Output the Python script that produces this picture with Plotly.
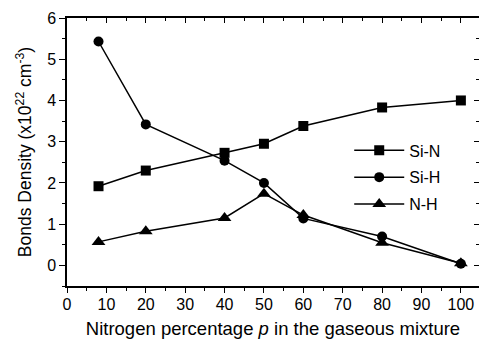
import plotly.graph_objects as go

p = [8, 20, 40, 50, 60, 80, 100]
si_n = [1.92, 2.30, 2.73, 2.95, 3.38, 3.83, 4.0]
si_h = [5.43, 3.42, 2.54, 2.0, 1.14, 0.70, 0.04]
n_h = [0.57, 0.83, 1.15, 1.74, 1.22, 0.55, 0.05]

series = [("Si-N", si_n, "square", 10), ("Si-H", si_h, "circle", 10), ("N-H", n_h, "triangle-up", 12)]

FONT = "Liberation Sans, Arial, Helvetica, sans-serif"
XR = [0, 104.6]
YR = [-0.5, 6]

fig = go.Figure()
for name, vals, sym, sz in series:
    fig.add_trace(go.Scatter(
        x=p, y=vals, name=name, mode="lines+markers", legendgroup=name,
        line=dict(color="black", width=1.5),
        marker=dict(symbol=sym, size=sz, color="black"),
    ))

axis_common = dict(showgrid=False, zeroline=False, linecolor="black", linewidth=1.5,
                   tickcolor="black", tickwidth=1.2)

fig.update_layout(
    width=479, height=341,
    margin=dict(l=67, r=0, t=18, b=55),
    paper_bgcolor="white", plot_bgcolor="white",
    font=dict(family=FONT, size=16, color="black"),
    showlegend=True,
    legend=dict(x=0.685, y=0.405, xanchor="left", yanchor="middle",
                bgcolor="rgba(0,0,0,0)", font=dict(size=16, family=FONT),
                tracegroupgap=3, itemwidth=50),
    xaxis=dict(range=XR, dtick=10, tick0=0, ticks="outside", ticklen=5, showline=True,
               ticklabelstandoff=-2,
               minor=dict(dtick=5, ticklen=3, ticks="outside", tickcolor="black"),
               title=dict(text="Nitrogen percentage <i>p</i> in the gaseous mixture",
                          font=dict(size=18.5), standoff=10),
               **axis_common),
    yaxis=dict(range=YR, dtick=1, tick0=0, ticks="outside", ticklen=6, showline=True,
               minor=dict(dtick=0.5, ticklen=3, ticks="outside", tickcolor="black"),
               title=dict(text="Bonds Density (x10<sup>22</sup> cm<sup>-3</sup>)",
                          font=dict(size=17.5), standoff=11),
               **axis_common),
    xaxis2=dict(range=XR, overlaying="x", side="top", anchor="y", dtick=10, tick0=0,
                ticks="inside", ticklen=5, showticklabels=False, showline=True,
                minor=dict(dtick=5, ticklen=3, ticks="inside", tickcolor="black"),
                **axis_common),
    yaxis2=dict(range=YR, overlaying="y", side="right", anchor="x", dtick=1, tick0=0,
                ticks="inside", ticklen=5, showticklabels=False, showline=False,
                minor=dict(dtick=0.5, ticklen=3, ticks="inside", tickcolor="black"),
                **axis_common),
)
# invisible trace to anchor the mirrored axes
fig.add_trace(go.Scatter(x=[None], y=[None], xaxis="x2", yaxis="y2", showlegend=False,
                         hoverinfo="skip"))

fig.write_html("out.html")
